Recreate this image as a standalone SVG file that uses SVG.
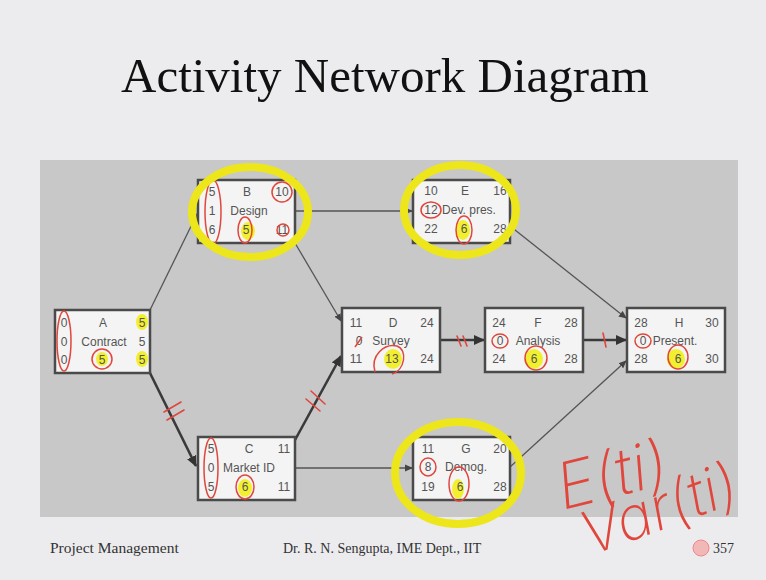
<svg xmlns="http://www.w3.org/2000/svg" width="766" height="580" viewBox="0 0 766 580">
<defs>
<style>
.bg{fill:#ececee}
.panel{fill:#c8c8c9}
.box{fill:#f4f4f4;stroke:#4a4a4a;stroke-width:2.5}
.t{font-family:"Liberation Sans",Arial,sans-serif;font-size:12px;fill:#555;text-anchor:middle}
.title{font-family:"Liberation Serif","Times New Roman",serif;font-size:49px;fill:#111;text-anchor:middle}
.foot{font-family:"Liberation Serif","Times New Roman",serif;font-size:14px;fill:#333}
.c{stroke:#555;stroke-width:1.3;fill:none;marker-end:url(#ah)}
.cb{stroke:#3a3a3a;stroke-width:2.6;fill:none;marker-end:url(#ahb)}
.hash{stroke:#e0463c;stroke-width:1.6;fill:none;stroke-linecap:round}
.red{stroke:#e0463c;stroke-width:1.5;fill:none}
.yel{fill:#f2ee1a;opacity:0.9}
.ycirc{stroke:#ece61a;stroke-width:8;fill:none}
.hand{font-family:"Inter","Lato","Open Sans",sans-serif;font-weight:200;fill:#e0463c;font-style:italic}
</style>
<marker id="ah" markerWidth="8" markerHeight="8" refX="7" refY="4" orient="auto" markerUnits="userSpaceOnUse"><path d="M0,0.5 L8,4 L0,7.5 z" fill="#444"/></marker>
<marker id="ahb" markerWidth="11" markerHeight="11" refX="10" refY="5.5" orient="auto" markerUnits="userSpaceOnUse"><path d="M0,0.5 L11,5.5 L0,10.5 z" fill="#333"/></marker>
</defs>
<rect class="bg" x="0" y="0" width="766" height="580"/>
<text class="title" x="385" y="92">Activity Network Diagram</text>
<rect class="panel" x="40" y="160" width="698" height="357"/>

<g id="connectors">
<line class="c" x1="150" y1="310" x2="197" y2="214"/>
<line class="cb" x1="150" y1="373" x2="196" y2="466"/>
<line class="c" x1="295" y1="211" x2="412" y2="211"/>
<line class="c" x1="295" y1="243" x2="341" y2="321"/>
<line class="cb" x1="295" y1="440" x2="341" y2="356"/>
<line class="c" x1="295" y1="468" x2="412" y2="468"/>
<line class="cb" x1="440" y1="340" x2="484" y2="340"/>
<line class="cb" x1="583" y1="340" x2="626" y2="340"/>
<line class="c" x1="510" y1="226" x2="626" y2="318"/>
<line class="c" x1="510" y1="467" x2="626" y2="361"/>
<path class="hash" d="M164,412 L181,402 M167,420 L184,410"/>
<path class="hash" d="M311,391 L325,404 M306,399 L320,411"/>
<path class="hash" d="M457,336 L461,346 M463,336 L467,346"/>
<path class="hash" d="M603,333 L606,347"/>
</g>

<g id="nodeA">
<rect class="box" x="55" y="310" width="95" height="63"/>
<ellipse class="yel" cx="142" cy="322" rx="6" ry="8"/>
<ellipse class="yel" cx="142" cy="359" rx="6" ry="8"/>
<ellipse class="yel" cx="102" cy="359" rx="6" ry="7"/>
<text class="t" x="64" y="327">0</text><text class="t" x="103" y="327">A</text><text class="t" x="142" y="327">5</text>
<text class="t" x="64" y="346">0</text><text class="t" x="104" y="346">Contract</text><text class="t" x="142" y="346">5</text>
<text class="t" x="64" y="364">0</text><text class="t" x="102" y="364">5</text><text class="t" x="142" y="364">5</text>
<ellipse class="red" cx="64" cy="341" rx="7" ry="30"/>
<ellipse class="red" cx="102" cy="359" rx="10" ry="10"/>
</g>

<g id="nodeB">
<rect class="box" x="198" y="180" width="97" height="63"/>
<ellipse class="yel" cx="248" cy="231" rx="7" ry="9"/>
<text class="t" x="212" y="196">5</text><text class="t" x="247" y="196">B</text><text class="t" x="282" y="196">10</text>
<text class="t" x="212" y="215">1</text><text class="t" x="249" y="215">Design</text>
<text class="t" x="212" y="234">6</text><text class="t" x="246" y="234">5</text><text class="t" x="282" y="234">11</text>
<ellipse class="red" cx="213" cy="212" rx="8" ry="32"/>
<ellipse class="red" cx="282" cy="192" rx="10" ry="10"/>
<ellipse class="red" cx="245" cy="230" rx="7" ry="13"/>
<ellipse class="red" cx="283" cy="230" rx="6" ry="6"/>
</g>

<g id="nodeE">
<rect class="box" x="413" y="180" width="97" height="63"/>
<ellipse class="yel" cx="463" cy="230" rx="7" ry="10"/>
<text class="t" x="431" y="195">10</text><text class="t" x="465" y="195">E</text><text class="t" x="500" y="195">16</text>
<text class="t" x="431" y="214">12</text><text class="t" x="469" y="214">Dev. pres.</text>
<text class="t" x="431" y="233">22</text><text class="t" x="464" y="233">6</text><text class="t" x="500" y="233">28</text>
<ellipse class="red" cx="431" cy="210" rx="10" ry="8"/>
<ellipse class="red" cx="464" cy="230" rx="8" ry="14"/>
</g>

<g id="nodeD">
<rect class="box" x="342" y="308" width="98" height="64"/>
<ellipse class="yel" cx="393" cy="359" rx="9" ry="10"/>
<text class="t" x="356" y="327">11</text><text class="t" x="393" y="327">D</text><text class="t" x="427" y="327">24</text>
<text class="t" x="359" y="345">0</text><text class="t" x="391" y="345">Survey</text>
<text class="t" x="356" y="363">11</text><text class="t" x="392" y="363">13</text><text class="t" x="427" y="363">24</text>
<path class="red" d="M355,347 L362,337"/>
<path class="red" d="M375,372 C370,355 385,343 397,346 C408,350 405,370 392,374"/>
</g>

<g id="nodeF">
<rect class="box" x="485" y="308" width="98" height="64"/>
<ellipse class="yel" cx="534" cy="359" rx="9" ry="10"/>
<text class="t" x="499" y="327">24</text><text class="t" x="538" y="327">F</text><text class="t" x="571" y="327">28</text>
<text class="t" x="500" y="345">0</text><text class="t" x="538" y="345">Analysis</text>
<text class="t" x="499" y="363">24</text><text class="t" x="534" y="363">6</text><text class="t" x="571" y="363">28</text>
<ellipse class="red" cx="500" cy="341" rx="8" ry="7"/>
<ellipse class="red" cx="536" cy="358" rx="11" ry="12"/>
</g>

<g id="nodeH">
<rect class="box" x="627" y="308" width="98" height="64"/>
<ellipse class="yel" cx="676" cy="359" rx="9" ry="10"/>
<text class="t" x="641" y="327">28</text><text class="t" x="679" y="327">H</text><text class="t" x="712" y="327">30</text>
<text class="t" x="643" y="345">0</text><text class="t" x="675" y="345">Present.</text>
<text class="t" x="641" y="363">28</text><text class="t" x="678" y="363">6</text><text class="t" x="712" y="363">30</text>
<ellipse class="red" cx="643" cy="341" rx="8" ry="7"/>
<ellipse class="red" cx="678" cy="357" rx="10" ry="12"/>
</g>

<g id="nodeC">
<rect class="box" x="198" y="437" width="97" height="63"/>
<ellipse class="yel" cx="245" cy="488" rx="7" ry="9"/>
<text class="t" x="211" y="453">5</text><text class="t" x="249" y="453">C</text><text class="t" x="284" y="453">11</text>
<text class="t" x="211" y="472">0</text><text class="t" x="249" y="472">Market ID</text>
<text class="t" x="211" y="491">5</text><text class="t" x="245" y="491">6</text><text class="t" x="284" y="491">11</text>
<ellipse class="red" cx="211" cy="468" rx="7" ry="30"/>
<ellipse class="red" cx="245" cy="487" rx="9" ry="12"/>
</g>

<g id="nodeG">
<rect class="box" x="413" y="437" width="97" height="63"/>
<ellipse class="yel" cx="458" cy="489" rx="6" ry="10"/>
<text class="t" x="428" y="453">11</text><text class="t" x="466" y="453">G</text><text class="t" x="500" y="453">20</text>
<text class="t" x="428" y="471">8</text><text class="t" x="466" y="471">Demog.</text>
<text class="t" x="428" y="491">19</text><text class="t" x="460" y="491">6</text><text class="t" x="500" y="491">28</text>
<ellipse class="red" cx="428" cy="467" rx="8" ry="9"/>
<ellipse class="red" cx="459" cy="484" rx="10" ry="17"/>
</g>

<g id="annotations">
<ellipse class="ycirc" cx="250" cy="212" rx="58" ry="45"/>
<ellipse class="ycirc" cx="460" cy="210" rx="56" ry="45"/>
<ellipse class="ycirc" cx="458" cy="473" rx="63" ry="51"/>
<text class="hand" x="563" y="510" font-size="64" transform="rotate(-14 563 510)">E(ti)</text>
<text class="hand" x="590" y="556" font-size="60" transform="rotate(-20 590 556)">Var(ti)</text>
</g>

<g id="footer">
<text class="foot" x="50" y="553" style="font-size:15.5px">Project Management</text>
<text class="foot" x="283" y="553">Dr. R. N. Sengupta, IME Dept., IIT</text>
<circle cx="701" cy="548" r="8" fill="#f2b8b8" stroke="#e88" stroke-width="1"/>
<text class="foot" x="713" y="553">357</text>
</g>
</svg>
